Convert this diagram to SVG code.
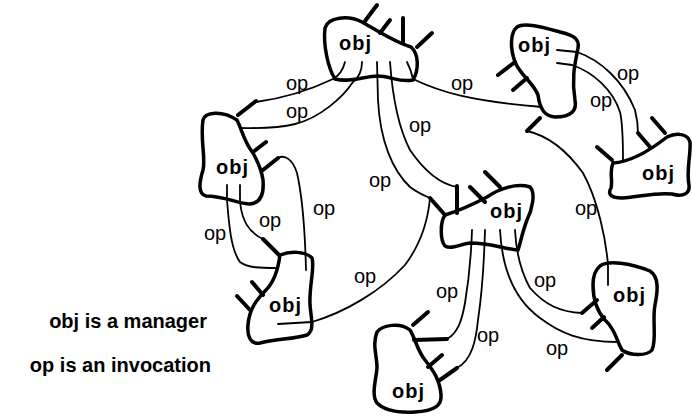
<svg xmlns="http://www.w3.org/2000/svg" width="692" height="416" viewBox="0 0 692 416">
<style>
.blob{fill:#fff;stroke:#000;stroke-width:3.5;stroke-linejoin:round}
.con{fill:none;stroke:#000;stroke-width:1.8;stroke-linecap:round;stroke-linejoin:round}
.spk{stroke:#000;stroke-width:4;stroke-linecap:round}
.op{font-family:"Liberation Sans",Arial,sans-serif;font-size:20px;text-anchor:middle;fill:#000}
.obj{font-family:"Liberation Sans",Arial,sans-serif;font-size:20px;font-weight:bold;letter-spacing:1px;fill:#000}
.leg{font-family:"Liberation Sans",Arial,sans-serif;font-size:20px;font-weight:bold;text-anchor:end;fill:#000}
</style>
<rect width="692" height="416" fill="#fff"/>
<g id="nodeA">
<path class="blob" d="M335,79 C328,68 323,45 325,28 C328,17 348,15 362,22 C376,30 396,43 411,47 C419,54 419,70 413,80 C400,83 390,76 378,76 C365,76 350,83 335,79 Z"/>
<text class="obj" x="339" y="50">obj</text>
<line class="spk" x1="365" y1="21" x2="377" y2="5"/>
<line class="spk" x1="380" y1="33" x2="390" y2="20"/>
<line class="spk" x1="403" y1="42" x2="403" y2="18"/>
<line class="spk" x1="417" y1="47" x2="432" y2="33"/>
</g>
<g id="nodeB">
<path class="blob" d="M517,27 C525,22 545,28 560,32 C572,35 580,38 578,48 C576,60 571,75 575,100 C577,110 572,117 555,117 C545,116 540,110 538,95 C533,82 520,75 515,62 C510,48 510,33 517,27 Z"/>
<text class="obj" x="518" y="52">obj</text>
<line class="spk" x1="498" y1="75" x2="515" y2="62"/>
<line class="spk" x1="513" y1="90" x2="527" y2="78"/>
</g>
<g id="nodeF">
<path class="blob" d="M613,163 C630,162 648,152 667,137 C677,132 688,134 690,142 C691,155 686,170 689,185 C690,194 683,197 672,194 C655,192 640,197 622,198 C612,198 607,195 611,188 C613,180 609,172 613,163 Z"/>
<text class="obj" x="642" y="180">obj</text>
<line class="spk" x1="597" y1="147" x2="612" y2="160"/>
<line class="spk" x1="652" y1="118" x2="665" y2="133"/>
</g>
<g id="nodeL">
<path class="blob" d="M203,120 C205,112 222,110 237,120 C242,130 244,142 253,153 C258,162 262,172 263,180 C264,192 262,203 250,204 C238,204 225,196 206,196 C198,194 199,183 203,170 C206,158 200,140 203,120 Z"/>
<text class="obj" x="216" y="174">obj</text>
<line class="spk" x1="253" y1="152" x2="266" y2="142"/>
</g>
<g id="nodeBL">
<path class="blob" d="M280,255 C290,251 305,251 312,258 C315,268 309,285 310,305 C311,318 315,330 307,335 C295,339 275,339 260,343 C250,345 247,335 248,325 C249,310 256,300 266,290 C273,283 278,270 280,255 Z"/>
<text class="obj" x="269" y="312">obj</text>
<line class="spk" x1="252" y1="282" x2="263" y2="295"/>
<line class="spk" x1="237" y1="296" x2="250" y2="310"/>
</g>
<g id="nodeC">
<path class="blob" d="M445,215 C455,212 470,206 487,197 C500,188 517,183 530,187 C536,193 532,210 527,220 C522,233 520,245 518,250 C505,249 490,243 470,243 C460,244 452,250 445,246 C440,240 440,222 445,215 Z"/>
<text class="obj" x="490" y="218">obj</text>
<line class="spk" x1="470" y1="187" x2="485" y2="202"/>
<line class="spk" x1="485" y1="172" x2="500" y2="187"/>
</g>
<g id="nodeD">
<path class="blob" d="M377,332 C382,325 400,322 410,330 C416,340 417,350 425,360 C433,370 440,380 441,395 C442,405 435,411 415,412 C398,413 385,411 377,403 C371,395 376,380 377,368 C377,355 372,345 377,332 Z"/>
<text class="obj" x="392" y="398">obj</text>
<line class="spk" x1="413" y1="325" x2="428" y2="312"/>
<line class="spk" x1="428" y1="367" x2="442" y2="355"/>
</g>
<g id="nodeE">
<path class="blob" d="M600,266 C608,260 630,263 650,271 C659,277 658,290 655,305 C652,320 657,340 652,350 C647,356 630,356 622,350 C616,340 616,330 605,320 C596,310 593,297 593,285 C593,275 595,270 600,266 Z"/>
<text class="obj" x="613" y="302">obj</text>
<line class="spk" x1="592" y1="328" x2="604" y2="317"/>
<line class="spk" x1="607" y1="370" x2="622" y2="355"/>
</g>
<g id="connectors">
<path class="con" d="M345,62 Q342,74 333,79 C310,90 285,98 256,102"/>
<line class="spk" x1="256" y1="101" x2="238" y2="115"/>
<path class="con" d="M362,62 C362,72 358,78 353,82 C343,97 320,118 295,124 C275,129 255,128 240,128"/>
<path class="con" d="M407,62 C410,68 412,74 413,79 C440,92 470,101 542,107"/>
<path class="con" d="M377,62 L378,100 C380,140 392,170 410,187 C418,193 425,196 430,198"/>
<line class="spk" x1="430" y1="198" x2="445" y2="215"/>
<path class="con" d="M390,62 C392,90 397,125 410,150 C425,172 440,184 457,187"/>
<line class="spk" x1="457" y1="186" x2="457" y2="213"/>
<path class="con" d="M557,50 L577,52 C600,60 623,80 635,110 C637,118 638,125 638,133"/>
<line class="spk" x1="638" y1="133" x2="650" y2="147"/>
<path class="con" d="M557,63 L572,65 C593,72 613,90 620,112 C623,125 623,145 623,160"/>
<line class="spk" x1="540" y1="118" x2="527" y2="131"/>
<path class="con" d="M527,131 C545,135 565,148 583,173 C598,200 606,240 608,265 L608,285"/>
<line class="spk" x1="263" y1="170" x2="278" y2="158"/>
<path class="con" d="M278,158 C285,154 293,160 297,173 C302,195 305,230 306,270"/>
<path class="con" d="M227,185 L227,200 C229,225 231,250 240,262 C248,268 260,268 278,268"/>
<path class="con" d="M240,185 L240,202 C242,220 248,232 263,239"/>
<line class="spk" x1="263" y1="239" x2="279" y2="255"/>
<path class="con" d="M278,324 L312,322 C345,312 380,292 405,265 C420,245 428,220 430,198"/>
<path class="con" d="M472,230 C471,260 468,285 465,303 C462,320 458,333 447,339"/>
<line class="spk" x1="447" y1="339" x2="414" y2="340"/>
<path class="con" d="M485,230 C484,265 481,300 478,320 C476,340 472,360 457,368"/>
<line class="spk" x1="457" y1="368" x2="440" y2="380"/>
<path class="con" d="M500,230 C502,270 515,300 540,318 C560,333 580,342 618,342"/>
<path class="con" d="M515,230 C516,250 520,270 530,288 C545,305 560,312 582,313"/>
<line class="spk" x1="582" y1="313" x2="597" y2="300"/>
</g>
<g id="labels">
<text class="op" x="297" y="90">op</text>
<text class="op" x="297" y="118">op</text>
<text class="op" x="462" y="90">op</text>
<text class="op" x="628" y="80">op</text>
<text class="op" x="601" y="107">op</text>
<text class="op" x="420" y="132">op</text>
<text class="op" x="380" y="187">op</text>
<text class="op" x="324" y="215">op</text>
<text class="op" x="270" y="227">op</text>
<text class="op" x="215" y="240">op</text>
<text class="op" x="365" y="283">op</text>
<text class="op" x="586" y="215">op</text>
<text class="op" x="447" y="298">op</text>
<text class="op" x="488" y="342">op</text>
<text class="op" x="545" y="287">op</text>
<text class="op" x="557" y="355">op</text>
</g>
<g id="legend">
<text class="leg" x="207" y="328">obj is a manager</text>
<text class="leg" x="211" y="372">op is an invocation</text>
</g>
</svg>
